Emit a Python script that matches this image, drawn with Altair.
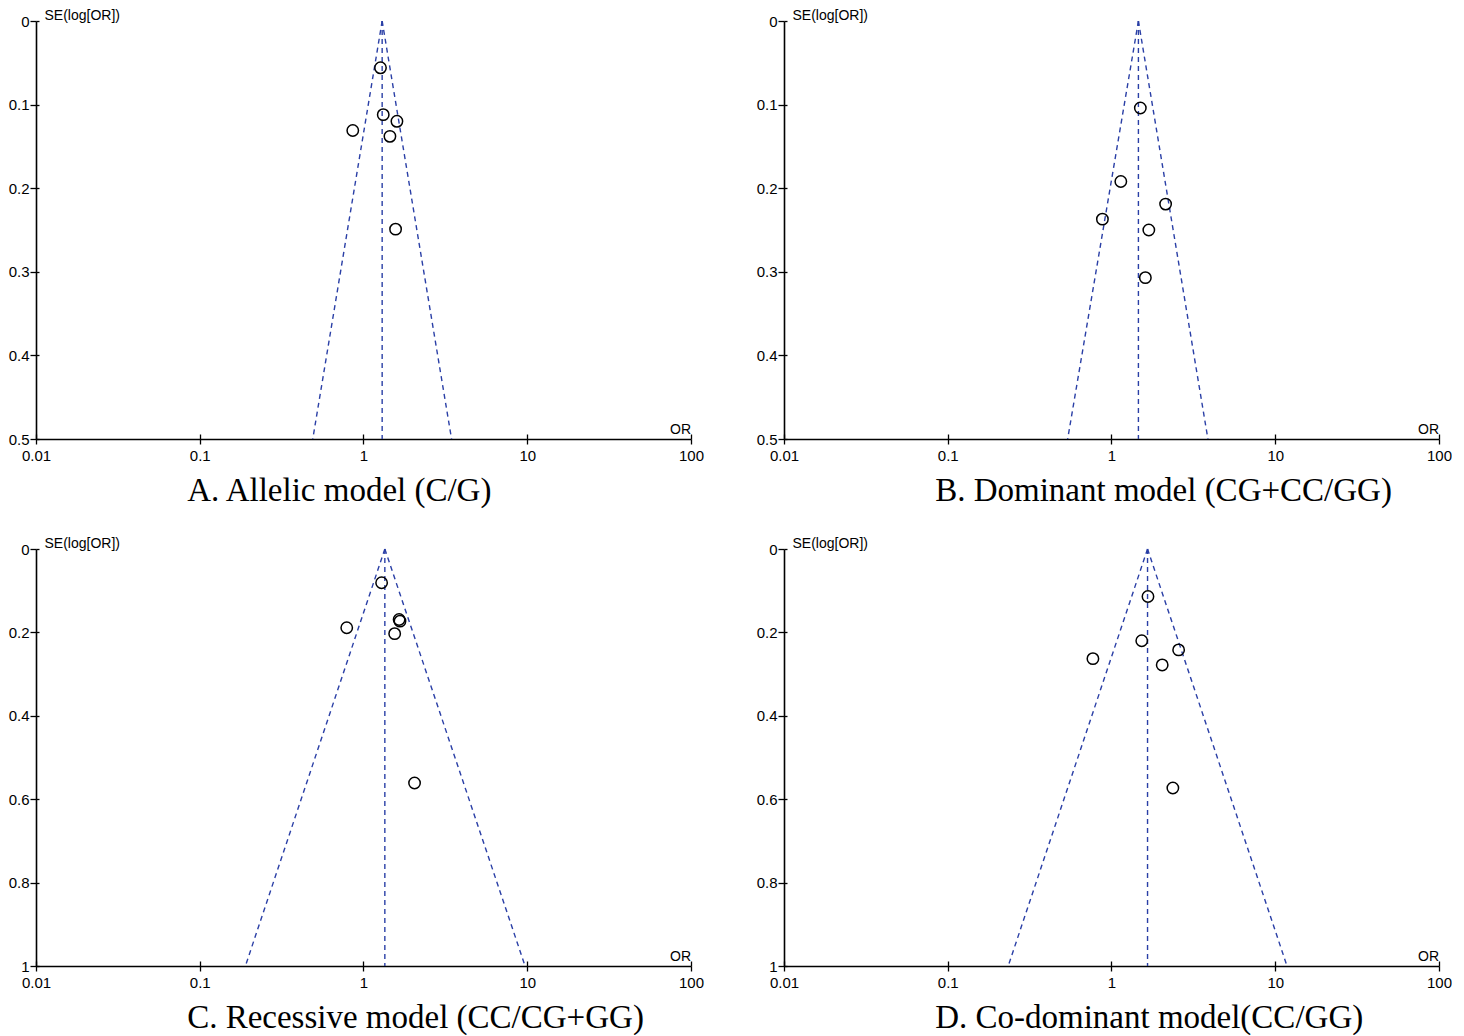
import altair as alt
import pandas as pd

# ---- data ----
A_or = [1.27, 1.32, 1.60, 0.86, 1.45, 1.57]
A_se = [0.056, 0.112, 0.120, 0.131, 0.138, 0.249]
A_funnel = {"pooled": 1.30, "lo": 0.49, "hi": 3.45, "semax": 0.5}

B_or = [1.50, 1.14, 2.14, 0.88, 1.69, 1.61]
B_se = [0.104, 0.192, 0.219, 0.237, 0.250, 0.307]
B_funnel = {"pooled": 1.46, "lo": 0.54, "hi": 3.88, "semax": 0.5}

C_or = [1.29, 1.65, 1.67, 0.79, 1.55, 2.05]
C_se = [0.081, 0.169, 0.173, 0.189, 0.203, 0.561]
C_funnel = {"pooled": 1.35, "lo": 0.19, "hi": 9.7, "semax": 1.0}

D_or = [1.67, 1.53, 2.57, 0.77, 2.04, 2.37]
D_se = [0.114, 0.220, 0.242, 0.263, 0.278, 0.573]
D_funnel = {"pooled": 1.66, "lo": 0.234, "hi": 11.8, "semax": 1.0}

x_ticks = [0.01, 0.1, 1, 10, 100]
y_ticks_top = [0, 0.1, 0.2, 0.3, 0.4, 0.5]
y_ticks_bottom = [0, 0.2, 0.4, 0.6, 0.8, 1.0]

titles = ["A. Allelic model (C/G)", "B. Dominant model (CG+CC/GG)",
          "C. Recessive model (CC/CG+GG)", "D. Co-dominant model(CC/GG)"]

W = 655
LINE_COLOR = "#2a3fa6"
SANS = "Liberation Sans"
SERIF = "Liberation Serif"


def panel(ors, ses, fun, yticks, title, h):
    pts = pd.DataFrame({"OR": ors, "SE": ses})
    p, lo, hi, sm = fun["pooled"], fun["lo"], fun["hi"], fun["semax"]
    lines = pd.DataFrame({
        "x0": [p, p, p], "y0": [0, 0, 0],
        "x1": [lo, p, hi], "y1": [sm, sm, sm],
    })
    xs = alt.Scale(type="log", domain=[0.01, 100])
    ys = alt.Scale(domain=[0, sm], reverse=True, nice=False, zero=True)
    xaxis = alt.Axis(values=x_ticks, format="~g", grid=False, title="OR",
                     orient="bottom",
                     titleX=W - 11, titleY=-3, titleBaseline="bottom",
                     titleAlign="center", titleFont=SANS, titleFontSize=14,
                     titleFontWeight="normal", titlePadding=0,
                     titleColor="black",
                     labelFont=SANS, labelFontSize=15, labelColor="black",
                     domainColor="black", domainWidth=1.6, tickColor="black",
                     tickWidth=1.3, tickSize=5, labelPadding=4,
                     labelFlush=False)
    yaxis = alt.Axis(values=yticks, format="~g", grid=False, title="SE(log[OR])",
                     orient="left",
                     titleAngle=0, titleX=8, titleY=-6, titleAlign="left",
                     titleBaseline="middle", titleFont=SANS, titleFontSize=14,
                     titleFontWeight="normal", titleColor="black",
                     labelFont=SANS, labelFontSize=15, labelColor="black",
                     domainColor="black", domainWidth=1.6, tickColor="black",
                     tickWidth=1.3, tickSize=6, labelPadding=1,
                     labelFlush=False)
    # inner half of the crossing tick marks
    xaxis_in = alt.Axis(values=x_ticks, orient="bottom", grid=False, title=None,
                        labels=False, domain=False, tickColor="black",
                        tickWidth=1.3, tickSize=5, offset=-5)
    yaxis_in = alt.Axis(values=yticks, orient="left", grid=False, title=None,
                        labels=False, domain=False, tickColor="black",
                        tickWidth=1.3, tickSize=3, offset=-3)
    rules = alt.Chart(lines).mark_rule(
        color=LINE_COLOR, strokeDash=[5, 4], strokeWidth=1.4
    ).encode(
        x=alt.X("x0:Q", scale=xs, axis=xaxis_in),
        y=alt.Y("y0:Q", scale=ys, axis=yaxis_in),
        x2="x1:Q", y2="y1:Q",
    )
    dots = alt.Chart(pts).mark_point(
        shape="circle", filled=False, color="black", size=130, strokeWidth=1.5,
        opacity=1
    ).encode(
        x=alt.X("OR:Q", scale=xs, axis=xaxis),
        y=alt.Y("SE:Q", scale=ys, axis=yaxis),
    )
    return alt.layer(rules, dots).resolve_axis(
        x="independent", y="independent"
    ).properties(
        width=W, height=h,
        title=alt.TitleParams(text=title, orient="bottom", anchor="start",
                              frame="bounds", dx=179, offset=12, font=SERIF,
                              fontSize=33, fontWeight="normal", color="black"),
    )


pA = panel(A_or, A_se, A_funnel, y_ticks_top, titles[0], 418)
pB = panel(B_or, B_se, B_funnel, y_ticks_top, titles[1], 418)
pC = panel(C_or, C_se, C_funnel, y_ticks_bottom, titles[2], 417)
pD = panel(D_or, D_se, D_funnel, y_ticks_bottom, titles[3], 417)

row1 = alt.hconcat(pA, pB, spacing=52)
row2 = alt.hconcat(pC, pD, spacing=52)
chart = alt.vconcat(row1, row2, spacing=28).configure_view(
    strokeOpacity=0, strokeWidth=0
).properties(padding=0, background="white")

chart.save("out.html", embed_options={"renderer": "svg", "actions": False})
